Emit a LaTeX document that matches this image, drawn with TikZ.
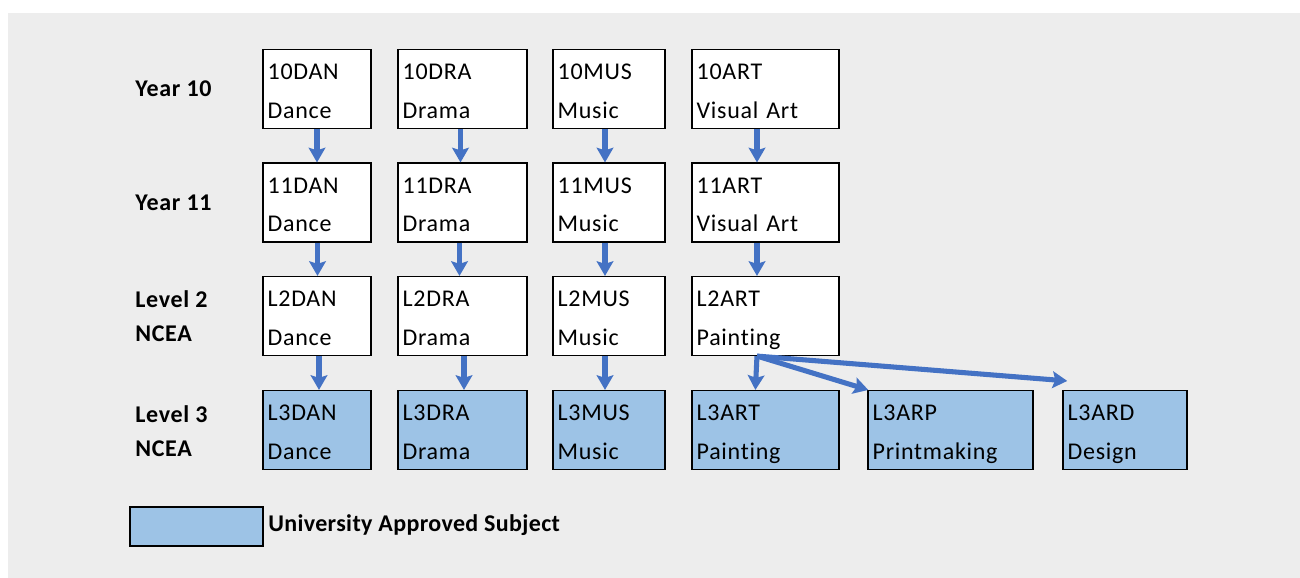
\documentclass[tikz,border=0pt]{standalone}
\usepackage{fontspec}
\setmainfont[Ligatures=NoCommon, LetterSpace=3]{Carlito}
\usetikzlibrary{arrows.meta, calc}
\definecolor{bggray}{HTML}{EDEDED}
\definecolor{uablue}{HTML}{9DC3E6}
\definecolor{flowblue}{HTML}{4472C4}

\begin{document}
\begin{tikzpicture}[x=0.75pt, y=-0.75pt,
    subj/.style={draw, line width=1.1pt, fill=white, inner sep=3.5pt, minimum height=57pt, align=left, font=\fontsize{18}{29}\selectfont,
        execute at begin node={\rule{0pt}{19pt}}, execute at end node={\rule[-4pt]{0pt}{4pt}}},
    uasubj/.style={subj, fill=uablue},
    rowlab/.style={anchor=west, inner sep=0pt, align=left, font=\fontsize{18}{25.5}\selectfont\bfseries},
    flow/.style={draw=flowblue, line width=3.8pt, -{Stealth[length=11pt, width=12.5pt, inset=2pt]}}]
    \useasboundingbox (0,0) rectangle (1300,578);
    \fill [bggray] (8,13) rectangle (1300,578);

    % row labels
    \node [rowlab] (y10) at (135,89) {Year 10};
    \node [rowlab] (y11) at (135,202.5) {Year 11};
    \node [rowlab] (lv2) at (135,316) {Level 2\\NCEA};
    \node [rowlab] (lv3) at (135,431) {Level 3\\NCEA};

    % dance
    \node [subj, text width=74pt] (dan10) at (317,89) {10DAN\\Dance};
    \node [subj, text width=74pt] (dan11) at (317,202.5) {11DAN\\Dance};
    \node [subj, text width=74pt] (dan2) at (317,316) {L2DAN\\Dance};
    \node [uasubj, text width=74pt] (dan3) at (317,430) {L3DAN\\Dance};

    % drama
    \node [subj, text width=89.75pt] (dra10) at (462.5,89) {10DRA\\Drama};
    \node [subj, text width=89.75pt] (dra11) at (462.5,202.5) {11DRA\\Drama};
    \node [subj, text width=89.75pt] (dra2) at (462.5,316) {L2DRA\\Drama};
    \node [uasubj, text width=89.75pt] (dra3) at (462.5,430) {L3DRA\\Drama};

    % music
    \node [subj, text width=77pt] (mus10) at (609,89) {10MUS\\Music};
    \node [subj, text width=77pt] (mus11) at (609,202.5) {11MUS\\Music};
    \node [subj, text width=77pt] (mus2) at (609,316) {L2MUS\\Music};
    \node [uasubj, text width=77pt] (mus3) at (609,430) {L3MUS\\Music};

    % visual art
    \node [subj, text width=103.25pt] (art10) at (765.5,89) {10ART\\Visual Art};
    \node [subj, text width=103.25pt] (art11) at (765.5,202.5) {11ART\\Visual Art};
    \node [subj, text width=103.25pt] (art2) at (765.5,316) {L2ART\\Painting};
    \node [uasubj, text width=103.25pt] (art3) at (765.5,430) {L3ART\\Painting};
    \node [uasubj, text width=116.75pt] (arp3) at (950.5,430) {L3ARP\\Printmaking};
    \node [uasubj, text width=86pt] (ard3) at (1125,430) {L3ARD\\Design};

    % pathways
    \foreach \a/\b/\s in {dan10/dan11/0, dan11/dan2/0.5, dan2/dan3/2,
        dra10/dra11/-2, dra11/dra2/-3, dra2/dra3/1.5,
        mus10/mus11/-4, mus11/mus2/-4, mus2/mus3/-4,
        art10/art11/-8.5, art11/art2/-8.5}
        \draw [flow] ([xshift=\s*0.75pt]\a.south) -- ([xshift=\s*0.75pt]\b.north);
    \coordinate (fan) at ([xshift=-6.4pt]art2.south);
    \draw [flow] (fan) -- ([xshift=-7.6pt]art3.north);
    \draw [flow] (fan) -- ([xshift=0.75pt]arp3.north west);
    \draw [flow] (fan) -- ([shift={(5,-9)}]ard3.north west);

    % key
    \node [draw, line width=1.1pt, fill=uablue, minimum width=100pt, minimum height=29pt, inner sep=0pt] (key) at (196.5,526.5) {};
    \node [anchor=west, inner sep=0pt, font=\fontsize{18}{22}\selectfont\bfseries\addfontfeature{LetterSpace=1.5}] (keytext) at (268,525) {University Approved Subject};
\end{tikzpicture}
\end{document}
